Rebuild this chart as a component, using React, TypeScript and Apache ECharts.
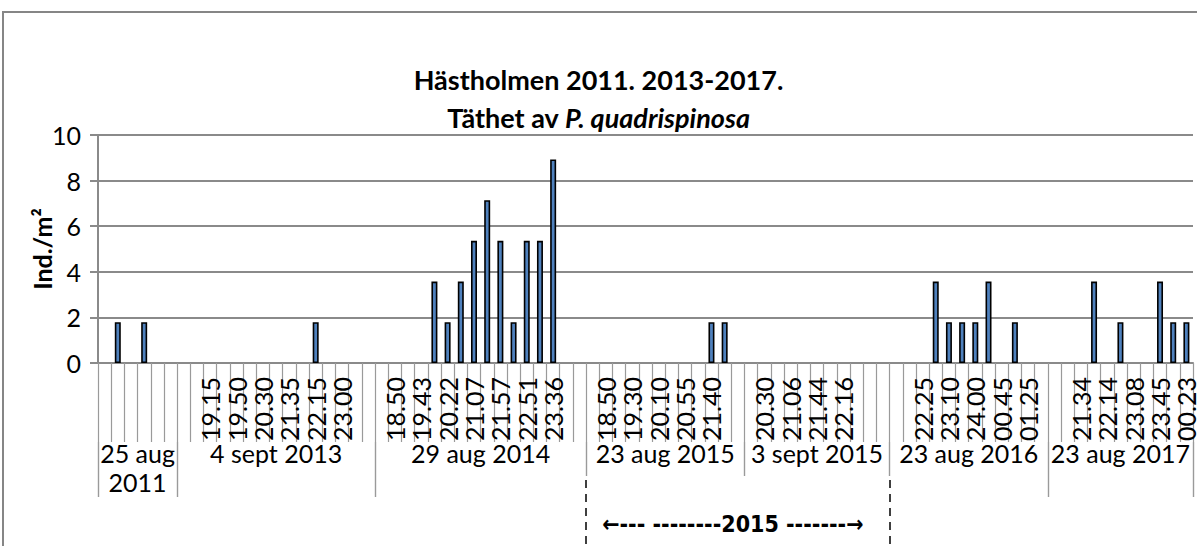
import React, { useEffect, useRef } from 'react';
import * as echarts from 'echarts';

// Second-level categories (sampling occasions)
const groupNames = ['25 aug\n2011', '4 sept 2013', '29 aug 2014', '23 aug 2015', '3 sept 2015', '23 aug 2016', '23 aug 2017'];

// First-level categories (sampling times) per occasion
const times2011 = ['', '', '', '', '', ''];
const times2013 = ['', '', '19.15', '', '19.50', '', '20.30', '', '21.35', '', '22.15', '', '23.00', '', ''];
const times2014 = ['', '18.50', '', '19.43', '', '20.22', '', '21.07', '', '21.57', '', '22.51', '', '23.36', '', ''];
const times2015a = ['', '18.50', '', '19.30', '', '20.10', '', '20.55', '', '21.40', '', ''];
const times2015b = ['', '20.30', '', '21.06', '', '21.44', '', '22.16', '', '', ''];
const times2016 = ['', '', '22.25', '', '23.10', '', '24.00', '', '00.45', '', '01.25', ''];
const times2017 = ['', '', '21.34', '', '22.14', '', '23.08', '', '23.45', '', '00.23'];

// Density (Ind./m²) per sampling time
const values2011 = [0, 1.79, 0, 1.79, 0, 0];
const values2013 = [0, 0, 0, 0, 0, 0, 0, 0, 0, 0, 1.79, 0, 0, 0, 0];
const values2014 = [0, 0, 0, 0, 3.57, 1.79, 3.57, 5.36, 7.14, 5.36, 1.79, 5.36, 5.36, 8.93, 0, 0];
const values2015a = [0, 0, 0, 0, 0, 0, 0, 0, 0, 1.79, 1.79, 0];
const values2015b = [0, 0, 0, 0, 0, 0, 0, 0, 0, 0, 0];
const values2016 = [0, 0, 0, 3.57, 1.79, 1.79, 1.79, 3.57, 0, 1.79, 0, 0];
const values2017 = [0, 0, 0, 3.57, 0, 1.79, 0, 0, 3.57, 1.79, 1.79];

const timesByGroup = [times2011, times2013, times2014, times2015a, times2015b, times2016, times2017];
const valuesByGroup = [values2011, values2013, values2014, values2015a, values2015b, values2016, values2017];

const yMin = 0;
const yMax = 10;
const yStep = 2;

const title1 = 'Hästholmen 2011. 2013-2017.';
const title2a = 'Täthet av ';
const title2b = 'P. quadrispinosa';
const yName = 'Ind./m²';
const note2015 = '←--- --------2015 -------→';

// group edges (index into group starts, last = end)
const longEdges = [0, 1, 2, 6, 7];
const shortEdges = [3, 4, 5];
const dashedEdges = [3, 5];
const noteSpan = [3, 5];

export default function App() {
  const ref = useRef<HTMLDivElement>(null);
  useEffect(() => {
    document.body.style.margin = '0';
    const chart = echarts.init(ref.current!, null, { renderer: 'svg' });
    const times = timesByGroup.flat();
    const values = valuesByGroup.flat();
    const starts: number[] = [];
    let acc = 0;
    timesByGroup.forEach((g) => {
      starts.push(acc);
      acc += g.length;
    });
    const n = acc;
    starts.push(n);
    const half = Array.from({ length: 2 * n + 1 }, (_, j) => 'h' + j);
    const longJ = new Set(longEdges.map((e) => 2 * starts[e]));
    const shortJ = new Set(shortEdges.map((e) => 2 * starts[e]));
    const dashJ = new Set(dashedEdges.map((e) => 2 * starts[e]));
    const labelAt = new Map<number, string>(groupNames.map((g, k) => [starts[k] + starts[k + 1], g] as [number, string]));
    const noteJ = starts[noteSpan[0]] + starts[noteSpan[1]];
    const font = 'Lato';
    const gray = '#8a8a8a';
    const tickGray = '#9a9a9a';

    chart.setOption({
      animation: false,
      textStyle: { fontFamily: font },
      title: {
        left: 'center',
        top: 55,
        text: `{b|${title1}}\n{b|${title2a}}{bi|${title2b}}`,
        textStyle: {
          rich: {
            b: { fontSize: 27, fontWeight: 'bold', fontFamily: font, color: '#000', lineHeight: 38 },
            bi: { fontSize: 27, fontWeight: 'bold', fontStyle: 'italic', fontFamily: font, color: '#000', lineHeight: 38 },
          },
        },
      },
      graphic: [
        {
          type: 'rect',
          x: 3,
          y: 12,
          silent: true,
          shape: { x: 0, y: 0, width: 1260, height: 620 },
          style: { fill: 'none', stroke: '#868686', lineWidth: 2 },
        },
      ],
      grid: { left: 98, right: 4, top: 135, bottom: 183, outerBoundsMode: 'none' },
      xAxis: [
        {
          type: 'category',
          position: 'bottom',
          data: times.map((_, i) => 'c' + i),
          axisLine: { show: true, lineStyle: { color: gray, width: 2 } },
          axisTick: { show: true, interval: 0, length: 79, lineStyle: { color: tickGray, width: 1.2 } },
          axisLabel: {
            interval: 0,
            rotate: 90,
            margin: 14,
            fontSize: 25,
            color: '#000',
            formatter: (_: string, i: number) => times[i],
          },
          splitLine: { show: false },
        },
        {
          type: 'category',
          position: 'bottom',
          offset: 79,
          boundaryGap: false,
          data: half,
          axisLine: { show: false },
          axisTick: { show: true, interval: (j: number) => longJ.has(j), length: 55, lineStyle: { color: tickGray, width: 1.4 } },
          axisLabel: {
            interval: 0,
            margin: -4,
            fontSize: 25,
            lineHeight: 29,
            color: '#000',
            formatter: (_: string, j: number) => labelAt.get(j) ?? '',
          },
          splitLine: { show: false },
        },
        {
          type: 'category',
          position: 'bottom',
          offset: 79,
          boundaryGap: false,
          data: half,
          axisLine: { show: false },
          axisTick: { show: true, interval: (j: number) => shortJ.has(j), length: 34, lineStyle: { color: tickGray, width: 1.4 } },
          axisLabel: { show: false },
          splitLine: { show: false },
        },
        {
          type: 'category',
          position: 'bottom',
          offset: 117,
          boundaryGap: false,
          data: half,
          axisLine: { show: false },
          axisTick: {
            show: true,
            interval: (j: number) => dashJ.has(j),
            length: 66,
            lineStyle: { color: '#000', width: 1.5, type: [8, 6] },
          },
          axisLabel: {
            interval: 0,
            margin: 32,
            fontSize: 23,
            fontWeight: 'bold',
            fontFamily: 'Liberation Sans Narrow, DejaVu Sans Condensed, sans-serif',
            color: '#000',
            padding: [0, 10, 0, 0],
            formatter: (_: string, j: number) => (j === noteJ ? note2015 : ''),
          },
          splitLine: { show: false },
        },
      ],
      yAxis: {
        type: 'value',
        min: yMin,
        max: yMax,
        interval: yStep,
        name: yName,
        nameLocation: 'middle',
        nameGap: 44,
        nameMoveOverlap: false,
        nameTextStyle: { fontSize: 25, fontWeight: 'bold', color: '#000', fontFamily: font },
        axisLine: { show: true, lineStyle: { color: gray, width: 2 } },
        axisTick: { show: true, length: 8, lineStyle: { color: gray, width: 2 } },
        axisLabel: { fontSize: 25, margin: 17, color: '#000' },
        splitLine: { show: true, lineStyle: { color: gray, width: 2 } },
      },
      series: [
        {
          type: 'bar',
          xAxisIndex: 0,
          yAxisIndex: 0,
          barWidth: 6,
          data: values.map((v) => (v === 0 ? null : v)),
          itemStyle: { color: '#4F81BD', borderColor: '#000', borderWidth: 1.6 },
        },
      ],
    });
    return () => chart.dispose();
  }, []);
  return <div ref={ref} style={{ width: 1197, height: 546 }} />;
}
